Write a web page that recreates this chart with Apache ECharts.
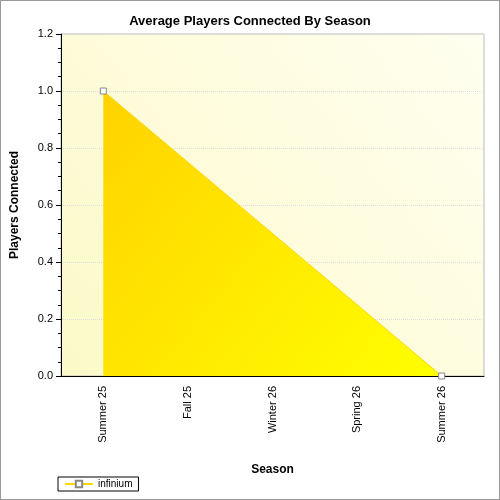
<!DOCTYPE html><html><head><meta charset="utf-8">
<script src="https://cdn.jsdelivr.net/npm/echarts@6/dist/echarts.min.js"></script>
<style>html,body{margin:0;padding:0}#c{width:500px;height:500px;box-sizing:border-box;border:1px solid #999}</style>
</head><body><div id="c"></div><script>
const categories=["Summer 25","Fall 25","Winter 26","Spring 26","Summer 26"];
const infinium=[1,null,null,null,0];
const yTicks=[0,0.2,0.4,0.6,0.8,1.0,1.2];
const chart=echarts.init(document.getElementById('c'));
chart.setOption({
 backgroundColor:'#fff',animation:false,
 title:{text:'Average Players Connected By Season',left:'center',top:9,textStyle:{fontFamily:'Arial',fontSize:13,fontWeight:'bold',color:'#000'}},
 grid:{left:57,right:15,top:33,bottom:123,show:true,borderColor:'#bbb',borderWidth:1,
  backgroundColor:new echarts.graphic.LinearGradient(0,1,1,0,[{offset:0,color:'#fcf9c8'},{offset:1,color:'#fffff0'}])},
 xAxis:{type:'category',data:categories,boundaryGap:true,name:'Season',nameLocation:'middle',nameGap:88,
  nameTextStyle:{fontFamily:'Arial',fontSize:12,fontWeight:'bold',color:'#000'},
  axisLine:{lineStyle:{color:'#000'}},axisTick:{alignWithLabel:true,length:5,lineStyle:{color:'#000'}},
  axisLabel:{rotate:90,fontFamily:'Arial',fontSize:11,color:'#000',margin:10},
  splitLine:{show:false}},
 yAxis:{type:'value',min:0,max:1.2,interval:0.2,name:'Players Connected',nameLocation:'middle',nameGap:40,
  nameTextStyle:{fontFamily:'Arial',fontSize:12,fontWeight:'bold',color:'#000'},
  axisLine:{show:true,lineStyle:{color:'#000'}},axisTick:{show:true,length:5,lineStyle:{color:'#000'}},
  minorTick:{show:true,splitNumber:4,length:3,lineStyle:{color:'#000'}},
  axisLabel:{fontFamily:'Arial',fontSize:11,color:'#000',formatter:v=>v.toFixed(1)},
  splitLine:{show:true,lineStyle:{color:'#ddd',type:'dotted'}}},
 legend:{left:57,bottom:8,itemWidth:28,itemHeight:8,borderColor:'#000',borderWidth:1,padding:[2,6],borderRadius:0,
  textStyle:{fontFamily:'Arial',fontSize:10,color:'#000'},data:['infinium']},
 series:[{name:'infinium',type:'line',data:infinium,connectNulls:true,symbol:'rect',symbolSize:6,showAllSymbol:true,
  itemStyle:{color:'#fff',borderColor:'#888',borderWidth:1},
  lineStyle:{color:'#ffd700',width:1},
  areaStyle:{opacity:1,color:new echarts.graphic.LinearGradient(0,0,1,1,[{offset:0,color:'#ffd200'},{offset:1,color:'#ffff00'}])}}]
});
</script></body></html>
